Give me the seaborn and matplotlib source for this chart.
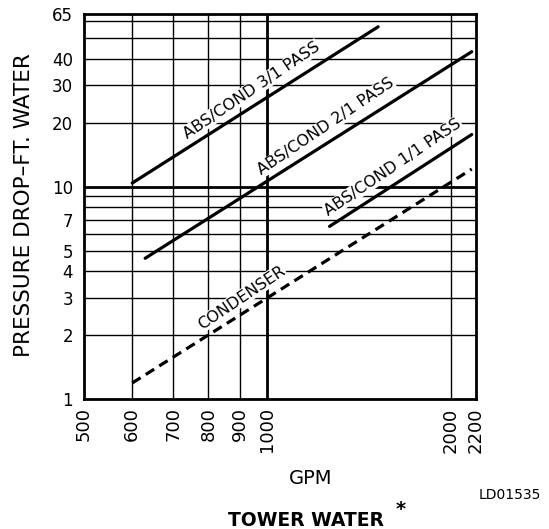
import matplotlib
matplotlib.use("Agg")
import matplotlib.pyplot as plt
import seaborn as sns
import pandas as pd

# Pressure drop curves (GPM vs ft. of water), endpoints of each straight log-log line
gpm_31 = [600, 1520]
drop_31 = [10.4, 56.6]
gpm_21 = [630, 2165]
drop_21 = [4.6, 43.2]
gpm_11 = [1265, 2165]
drop_11 = [6.5, 17.6]
gpm_cond = [600, 2165]
drop_cond = [1.19, 12.1]

x_ticks = [500, 600, 700, 800, 900, 1000, 2000, 2200]
y_ticks = [1, 2, 3, 4, 5, 7, 10, 20, 30, 40, 65]
x_grid = [600, 700, 800, 900, 1000, 2000]
y_grid = [2, 3, 4, 5, 6, 7, 8, 9, 10, 20, 30, 40, 50, 60]

sns.set_style("white")
plt.rcParams["font.family"] = ["DejaVu Sans"]
plt.rcParams["text.color"] = "black"
plt.rcParams["axes.labelcolor"] = "black"
plt.rcParams["xtick.color"] = "black"
plt.rcParams["ytick.color"] = "black"

fig = plt.figure(figsize=(5.49, 5.29), dpi=100)
ax = fig.add_axes([0.153, 0.2457, 0.714, 0.7278])
ax.set_xscale("log")
ax.set_yscale("log")
ax.set_xlim(500, 2200)
ax.set_ylim(1, 65)

# grid
for gx in x_grid:
    ax.axvline(gx, color="black", lw=2.0 if gx == 1000 else 1.0, zorder=1)
for gy in y_grid:
    ax.axhline(gy, color="black", lw=2.0 if gy == 10 else 1.0, zorder=1)

frames = [
    pd.DataFrame({"gpm": gpm_31, "drop": drop_31}),
    pd.DataFrame({"gpm": gpm_21, "drop": drop_21}),
    pd.DataFrame({"gpm": gpm_11, "drop": drop_11}),
]
for df in frames:
    sns.lineplot(data=df, x="gpm", y="drop", ax=ax, color="black", lw=2.3, zorder=3)
cond = pd.DataFrame({"gpm": gpm_cond, "drop": drop_cond})
sns.lineplot(data=cond, x="gpm", y="drop", ax=ax, color="black", lw=2.3, zorder=3)
ax.lines[-1].set_dashes((3.1, 1.9))

# curve labels
lbl = dict(fontsize=11.5, rotation=34, ha="center", va="center", zorder=4,
           rotation_mode="anchor",
           bbox=dict(facecolor="white", edgecolor="none", pad=0.5))
ax.text(0.427, 0.802, "ABS/COND 3/1 PASS", transform=ax.transAxes, **lbl)
ax.text(0.617, 0.708, "ABS/COND 2/1 PASS", transform=ax.transAxes, **lbl)
ax.text(0.788, 0.603, "ABS/COND 1/1 PASS", transform=ax.transAxes, **lbl)
ax.text(0.402, 0.263, "CONDENSER", transform=ax.transAxes, **lbl)

ax.set_xticks(x_ticks)
ax.set_xticklabels([str(v) for v in x_ticks], rotation=90)
ax.set_yticks(y_ticks)
ax.set_yticklabels([str(v) for v in y_ticks])
ax.minorticks_off()
ax.tick_params(axis="both", length=0, colors="black")
ax.tick_params(axis="x", pad=6, labelsize=13)
ax.tick_params(axis="y", pad=8, labelsize=12)

for s in ax.spines.values():
    s.set_visible(True)
    s.set_color("black")
    s.set_linewidth(2.0)
    s.set_zorder(5)

ax.set_xlabel("")
ax.set_ylabel("")

fig.text(24 / 549, 1 - 205 / 529, "PRESSURE DROP\u2013FT. WATER", rotation=90,
         ha="center", va="center", fontsize=15.5)
fig.text(311 / 549, 1 - 479 / 529, "GPM", ha="center", va="center", fontsize=14)
fig.text(541 / 549, 1 - 495 / 529, "LD01535", ha="right", va="center", fontsize=10)
fig.text(306 / 549, 1 - 520 / 529, "TOWER WATER", ha="center", va="center",
         fontsize=13.5, fontweight="bold")
fig.text(401 / 549, 1 - 510 / 529, "*", ha="center", va="center",
         fontsize=14, fontweight="bold")

fig.savefig("out.png", dpi=100)
